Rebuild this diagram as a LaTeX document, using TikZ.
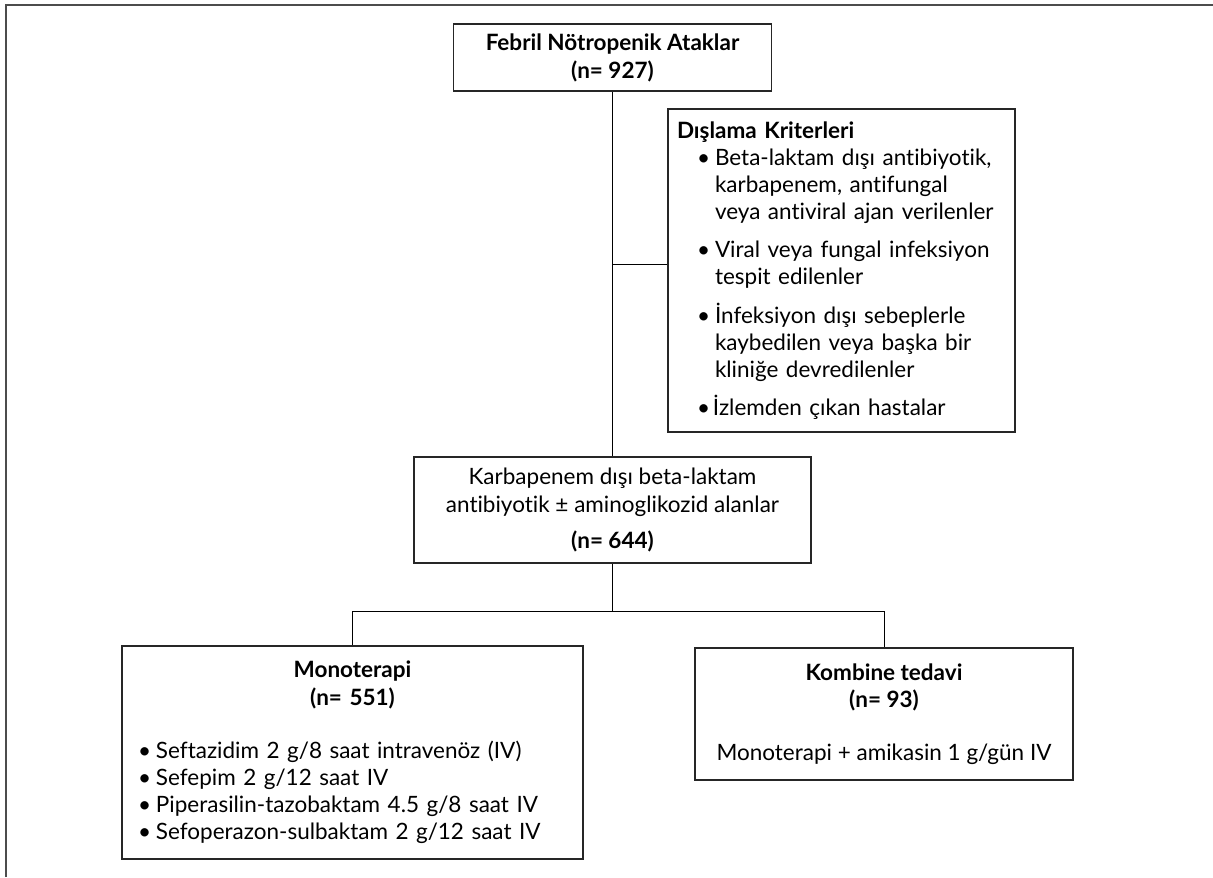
\documentclass[tikz,border=0pt]{standalone}
\usepackage{fontspec}
\setmainfont{Lato}[Ligatures=NoCommon]
\begin{document}
\begin{tikzpicture}[
    box/.style={draw=black!85, line width=1pt, inner sep=0pt, align=center,
        font=\fontsize{16}{19.3}\selectfont},
    head/.style={font=\fontsize{16}{19.8}\selectfont\bfseries},
    link/.style={draw=black, line width=0.7pt},
    frame/.style={draw=black!70, line width=1.5pt}
]
    % page and frame
    \useasboundingbox (0,0) rectangle (30.325,-21.925);
    \draw[frame] (0.14,-21.925) -- (0.14,-0.12) -- (30.325,-0.12);
    % top box
    \node[box, head, minimum width=7.95cm, minimum height=1.675cm] (top) at (15.3125,-1.4375)
        {Febril Nötropenik Ataklar\\(n= 927)};
    % exclusion box
    \node[box, align=left, minimum width=8.675cm, minimum height=8.075cm,
          text width=8.225cm, inner xsep=0.225cm] (excl) at (21.0375,-6.7625)
        {\textbf{Dışlama Kriterleri}\\
         \hspace*{0.5cm}\makebox[0.45cm][l]{•}Beta-laktam dışı antibiyotik,\\
         \hspace*{0.95cm}karbapenem, antifungal\\
         \hspace*{0.95cm}veya antiviral ajan verilenler\\[7.8pt]
         \hspace*{0.5cm}\makebox[0.45cm][l]{•}Viral veya fungal infeksiyon\\
         \hspace*{0.95cm}tespit edilenler\\[7.8pt]
         \hspace*{0.5cm}\makebox[0.45cm][l]{•}İnfeksiyon dışı sebeplerle\\
         \hspace*{0.95cm}kaybedilen veya başka bir\\
         \hspace*{0.95cm}kliniğe devredilenler\\[7.8pt]
         \hspace*{0.5cm}\makebox[0.4cm][l]{•}İzlemden çıkan hastalar};
    % middle box
    \node[box, minimum width=9.925cm, minimum height=2.65cm] (mid) at (15.3125,-12.75)
        {Karbapenem dışı beta-laktam\\antibiyotik ± aminoglikozid alanlar\\[0.225cm]\textbf{(n= 644)}};
    % treatment boxes
    \node[box, align=left, minimum width=11.525cm, minimum height=5.325cm,
          text width=10.725cm, inner xsep=0.4cm] (mono) at (8.8125,-18.8125)
        {{\centering\bfseries Monoterapi\\(n= 551)\par}
         \vspace{0.65cm}
         \makebox[0.45cm][l]{•}Seftazidim 2 g/8 saat intravenöz (IV)\\
         \makebox[0.45cm][l]{•}Sefepim 2 g/12 saat IV\\
         \makebox[0.45cm][l]{•}Piperasilin-tazobaktam 4.5 g/8 saat IV\\
         \makebox[0.45cm][l]{•}Sefoperazon-sulbaktam 2 g/12 saat IV};
    \node[box, minimum width=9.45cm, minimum height=3.3cm] (combo) at (22.1,-17.85)
        {\textbf{Kombine tedavi}\\\textbf{(n= 93)}\\[0.65cm]Monoterapi + amikasin 1 g/gün IV};
    % connectors
    \coordinate (split) at (15.3125,-15.275);
    \draw[link] (top.south) -- (mid.north);
    \draw[link] ([yshift=0.16cm]excl.west) -- ([yshift=0.16cm]excl.west -| top.south);
    \draw[link] (mid.south) -- (split);
    \draw[link] (mono.north) |- (split) -| (combo.north);
\end{tikzpicture}
\end{document}
